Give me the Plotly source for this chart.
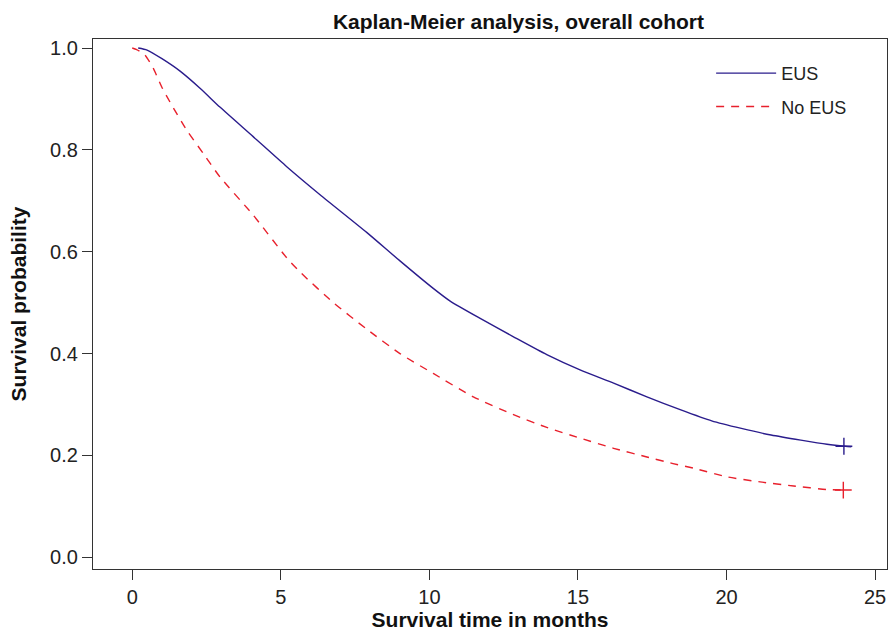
import plotly.graph_objects as go

# ---- data ----
eus_months = [0.2, 0.5, 1.0, 1.6, 2.3, 2.95, 4.07, 5.2, 6.32, 7.89, 9.01, 10.13, 10.7,
              11.71, 12.83, 13.95, 15.07, 16.2, 17.32, 18.44, 19.5, 20.5, 21.5, 22.5,
              23.38, 24.0, 24.2]
eus_surv = [1.000, 0.996, 0.979, 0.955, 0.920, 0.884, 0.826, 0.767, 0.712, 0.638, 0.582,
            0.528, 0.503, 0.469, 0.433, 0.398, 0.368, 0.342, 0.315, 0.290, 0.268, 0.253,
            0.240, 0.230, 0.222, 0.218, 0.217]

noeus_months = [0.0, 0.15, 0.43, 0.71, 0.99, 1.27, 1.83, 2.39, 2.95, 4.07, 5.2, 5.65,
                6.77, 7.89, 9.01, 10.13, 11.48, 12.83, 13.95, 15.07, 16.2, 17.32, 18.2,
                18.89, 20.01, 21.13, 22.26, 23.38, 23.92]
noeus_surv = [1.000, 0.997, 0.986, 0.960, 0.924, 0.894, 0.839, 0.793, 0.747, 0.672, 0.588,
              0.560, 0.500, 0.448, 0.400, 0.361, 0.315, 0.280, 0.255, 0.234, 0.214, 0.197,
              0.184, 0.175, 0.158, 0.148, 0.140, 0.133, 0.132]

eus_censor_t = [23.95]
eus_censor_s = [0.218]
noeus_censor_t = [23.93]
noeus_censor_s = [0.132]

x_ticks = [0, 5, 10, 15, 20, 25]
y_ticks = [0.0, 0.2, 0.4, 0.6, 0.8, 1.0]
y_tick_labels = ["0.0", "0.2", "0.4", "0.6", "0.8", "1.0"]

EUS_COL = "#2a1c8c"
NO_COL = "#e8202c"
FONT = "Liberation Sans, Arial, Helvetica, sans-serif"

fig = go.Figure()
fig.add_trace(go.Scatter(x=eus_months, y=eus_surv, mode="lines", name="EUS",
                         line=dict(color=EUS_COL, width=1.4, shape="spline", smoothing=0.6),
                         legendgroup="a"))
fig.add_trace(go.Scatter(x=noeus_months, y=noeus_surv, mode="lines", name="No EUS",
                         line=dict(color=NO_COL, width=1.4, dash="8px,7px", shape="spline",
                                   smoothing=0.6),
                         legendgroup="b"))
fig.add_trace(go.Scatter(x=eus_censor_t, y=eus_censor_s, mode="markers", showlegend=False,
                         marker=dict(symbol="cross-thin", size=12,
                                     line=dict(color=EUS_COL, width=1.4))))
fig.add_trace(go.Scatter(x=noeus_censor_t, y=noeus_censor_s, mode="markers", showlegend=False,
                         marker=dict(symbol="cross-thin", size=12,
                                     line=dict(color=NO_COL, width=1.4))))

axis_common = dict(showline=True, linecolor="#333333", linewidth=1.3, mirror=True,
                   ticks="outside", ticklen=10, tickwidth=1.2, tickcolor="#333333",
                   showgrid=False, zeroline=False,
                   tickfont=dict(family=FONT, size=20, color="#222222"))

fig.update_xaxes(range=[-1.32, 25.4], tickvals=x_ticks,
                 title=dict(text="<b>Survival time in months</b>",
                            font=dict(family=FONT, size=21, color="#111111"), standoff=4),
                 **axis_common)
fig.update_yaxes(range=[-0.023, 1.0177], tickvals=y_ticks, ticktext=y_tick_labels,
                 title=dict(text="<b>Survival probability</b>",
                            font=dict(family=FONT, size=21, color="#111111"), standoff=17),
                 **axis_common)

fig.update_layout(
    width=889, height=635,
    margin=dict(l=93, r=2, t=39, b=66, autoexpand=False),
    paper_bgcolor="white", plot_bgcolor="white",
    title=dict(text="<b>Kaplan-Meier analysis, overall cohort</b>",
               font=dict(family=FONT, size=21, color="#111111"),
               x=0.5832, xref="container", xanchor="center",
               y=0.966, yref="container", yanchor="middle"),
    legend=dict(x=0.7785, y=0.97, xanchor="left", yanchor="top",
                bgcolor="rgba(0,0,0,0)", font=dict(family=FONT, size=18, color="#222222"),
                itemwidth=60, tracegroupgap=7, traceorder="grouped"),
    showlegend=True,
)

fig.write_html(
    "out.html",
    config={"displayModeBar": False},
    post_script="document.body.style.margin='0';document.body.style.overflow='hidden';",
)
